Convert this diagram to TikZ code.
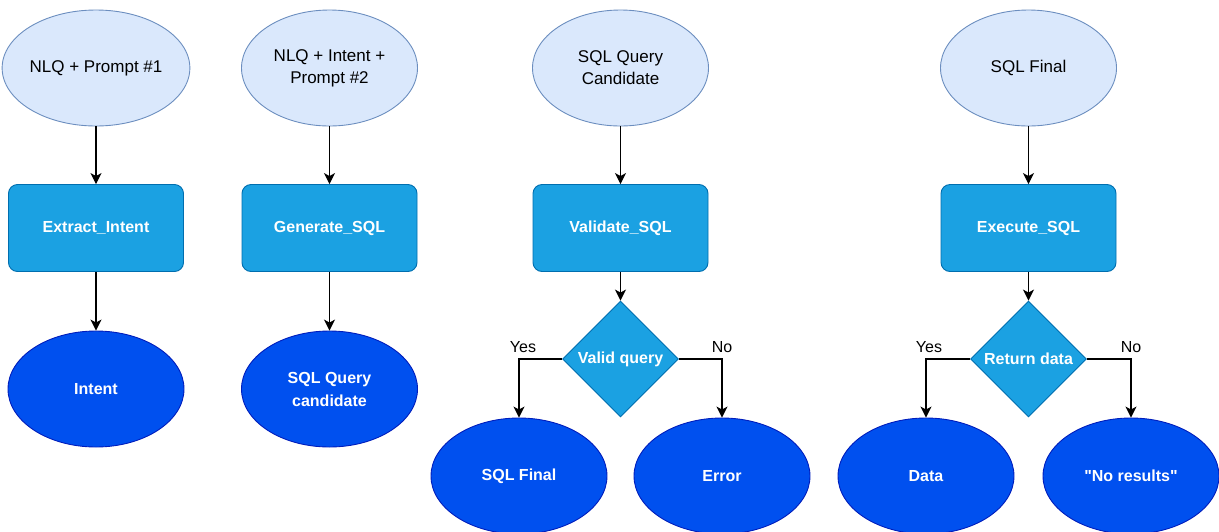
\documentclass[tikz,border=0pt]{standalone}
\usepackage{fontspec}
\setmainfont{Liberation Sans}[Ligatures=TeXOff]
\usetikzlibrary{shapes.geometric,arrows.meta}

\definecolor{inFill}{HTML}{DAE8FC}
\definecolor{inLine}{HTML}{6C8EBF}
\definecolor{procFill}{HTML}{1BA1E2}
\definecolor{procLine}{HTML}{006EAF}
\definecolor{outFill}{HTML}{0050EF}
\definecolor{outLine}{HTML}{001DBC}

\tikzset{
  base/.style={align=center, inner sep=0pt, line width=0.9pt},
  inputell/.style={base, ellipse, draw=inLine, fill=inFill, text=black,
    font=\fontsize{17}{22}\selectfont,
    minimum width=176pt, minimum height=116pt},
  procbox/.style={base, rectangle, rounded corners=9pt, draw=procLine, fill=procFill,
    text=white, font=\fontsize{16}{22}\selectfont\bfseries,
    minimum width=175pt, minimum height=87pt},
  outell/.style={base, ellipse, draw=outLine, fill=outFill, text=white,
    font=\fontsize{16}{23}\selectfont\bfseries,
    minimum width=176pt, minimum height=116pt},
  decide/.style={base, diamond, shape aspect=1, draw=procLine, fill=procFill,
    text=white, font=\fontsize{16}{22}\selectfont\bfseries,
    minimum width=116pt, minimum height=116pt},
  arr/.style={draw=black, line width=1.1pt,
    -{Stealth[length=11pt,width=11pt,inset=3pt]}},
  branch/.style={font=\fontsize{16}{19}\selectfont, text=black, inner sep=0pt}
}

\begin{document}
\begin{tikzpicture}[x=1pt,y=-1pt]
  \useasboundingbox (0,0) rectangle (1219,531);
  \clip (0,0) rectangle (1219,531);

  % column 1: intent extraction
  \node[inputell] (in1)  at (96,68)  {NLQ + Prompt \#1};
  \node[procbox]  (p1)   at (96,228) {Extract\_Intent};
  \node[outell]   (out1) at (96,389) {Intent};

  % column 2: SQL generation
  \node[inputell] (in2)  at (329.5,68)  {NLQ + Intent +\\Prompt \#2};
  \node[procbox]  (p2)   at (329.5,228) {Generate\_SQL};
  \node[outell]   (out2) at (329.5,389) {SQL Query\\candidate};

  % column 3: validation
  \node[inputell] (in3) at (620.5,68)  {SQL Query\\Candidate};
  \node[procbox]  (p3)  at (620.5,228) {Validate\_SQL};
  \node[decide]   (d3)  at (620.5,359) {Valid query};
  \node[outell]   (y3)  at (519,476)   {SQL Final};
  \node[outell]   (n3)  at (722,476)   {Error};

  % column 4: execution
  \node[inputell] (in4) at (1028.5,68)  {SQL Final};
  \node[procbox]  (p4)  at (1028.5,228) {Execute\_SQL};
  \node[decide]   (d4)  at (1028.5,359) {Return data};
  \node[outell]   (y4)  at (926,476)    {Data};
  \node[outell]   (n4)  at (1131,476)   {"No results"};

  % connectors
  \draw[arr] (in1.south) -- (p1.north);
  \draw[arr] (p1.south) -- (out1.north);
  \draw[arr] (in2.south) -- (p2.north);
  \draw[arr] (p2.south) -- (out2.north);
  \draw[arr] (in3.south) -- (p3.north);
  \draw[arr] (p3.south) -- (d3.north);
  \draw[arr] (in4.south) -- (p4.north);
  \draw[arr] (p4.south) -- (d4.north);

  \draw[arr] (d3.west) -| node[branch, pos=0.5, above=6pt, xshift=4pt] {Yes} (y3.north);
  \draw[arr] (d3.east) -| node[branch, pos=0.5, above=6pt] {No} (n3.north);
  \draw[arr] (d4.west) -| node[branch, pos=0.5, above=6pt, xshift=3pt] {Yes} (y4.north);
  \draw[arr] (d4.east) -| node[branch, pos=0.5, above=6pt] {No} (n4.north);
\end{tikzpicture}
\end{document}
